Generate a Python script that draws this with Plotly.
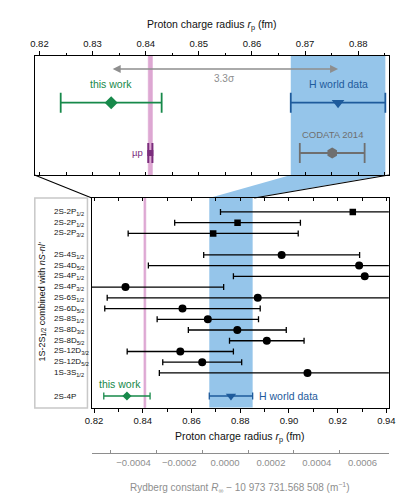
import plotly.graph_objects as go

W, H = 412, 495
OFF = 8  # page body margin of the written html page
FONT = "Liberation Sans, Arial, Helvetica, sans-serif"

# ---------------- data ----------------
# top panel (fm)
rp_this_work, rp_this_work_err = 0.8335, 0.0095
rp_h_world, rp_h_world_err = 0.8762, 0.0089
rp_codata, rp_codata_err = 0.8751, 0.0061
rp_mup, rp_mup_err = 0.84087, 0.00039
sigma_label = "3.3σ"

# bottom panel: 1S-2S combined with nS-nl'
line_labels = ["2S-2P<sub>1/2</sub>", "2S-2P<sub>1/2</sub>", "2S-2P<sub>3/2</sub>",
               "2S-4S<sub>1/2</sub>", "2S-4D<sub>5/2</sub>", "2S-4P<sub>1/2</sub>",
               "2S-4P<sub>3/2</sub>", "2S-6S<sub>1/2</sub>", "2S-6D<sub>5/2</sub>",
               "2S-8S<sub>1/2</sub>", "2S-8D<sub>3/2</sub>", "2S-8D<sub>5/2</sub>",
               "2S-12D<sub>3/2</sub>", "2S-12D<sub>5/2</sub>", "1S-3S<sub>1/2</sub>"]
line_values = [0.9262, 0.8789, 0.8689, 0.8970, 0.9288, 0.9311, 0.8329, 0.8872,
               0.8563, 0.8667, 0.8788, 0.8909, 0.8554, 0.8644, 0.9076]
line_errors = [0.0543, 0.0258, 0.0349, 0.0320, 0.0865, 0.0539, 0.0403, 0.0618,
               0.0319, 0.0208, 0.0201, 0.0153, 0.0218, 0.0162, 0.0608]
line_symbols = ["square"] * 3 + ["circle"] * 12
line_rows = [0, 1, 2, 4, 5, 6, 7, 8, 9, 10, 11, 12, 13, 14, 15]
this_work_row = 17.15

top_ticks = [0.82, 0.83, 0.84, 0.85, 0.86, 0.87, 0.88]
bottom_ticks = [0.82, 0.84, 0.86, 0.88, 0.90, 0.92, 0.94]
ryd_ticks = [-0.0004, -0.0002, 0.0, 0.0002, 0.0004, 0.0006]
ryd_ticktext = ["−0.0004", "−0.0002", "0.0000", "0.0002", "0.0004", "0.0006"]
ryd_minor = [-0.0005, -0.0003, -0.0001, 0.0001, 0.0003, 0.0005]

# ---------------- style / layout geometry ----------------
GREEN = "#17894a"
BLUE = "#1e5b9c"
LBLUE = "#95c5ea"
PINK = "#dea8d3"
PURPLE = "#7b2d7d"
GRAY = "#6f6f6f"
AGRAY = "#8e8e8e"

def px(x):
    return (x - OFF) / W

def py(y):
    return 1 - (y - OFF) / H

top_xdom = [px(28.3), px(395)]
top_ydom = [py(175), py(56)]
top_range = [0.81909, 0.88576]
bot_xdom = [px(87.3), px(395)]
bot_ydom = [py(407.5), py(198)]
bot_range = [0.8190, 0.9410]
ryd_range = [-0.000583, 0.000715]

def xt(v):
    return top_xdom[0] + (v - top_range[0]) / (top_range[1] - top_range[0]) * (top_xdom[1] - top_xdom[0])

def xb(v):
    return bot_xdom[0] + (v - bot_range[0]) / (bot_range[1] - bot_range[0]) * (bot_xdom[1] - bot_xdom[0])

# top-panel row positions (panel units, 0 = top)
ROW_ARROW, ROW_SIGMA, ROW_LABEL, ROW_MAIN, ROW_CLABEL, ROW_CODATA = 13, 23, 28, 46.7, 79, 97

fig = go.Figure()

# ---- top panel ----
fig.add_trace(go.Scatter(x=[rp_this_work], y=[ROW_MAIN], mode="markers", xaxis="x", yaxis="y",
                         marker=dict(symbol="diamond", size=10, color=GREEN),
                         error_x=dict(type="data", array=[rp_this_work_err], color=GREEN, thickness=1.8, width=10)))
fig.add_trace(go.Scatter(x=[rp_h_world], y=[ROW_MAIN], mode="markers", xaxis="x", yaxis="y",
                         marker=dict(symbol="triangle-down", size=11, color=BLUE),
                         error_x=dict(type="data", array=[rp_h_world_err], color=BLUE, thickness=1.8, width=10)))
fig.add_trace(go.Scatter(x=[rp_codata], y=[ROW_CODATA], mode="markers", xaxis="x", yaxis="y",
                         marker=dict(symbol="hexagon", size=11, color=GRAY),
                         error_x=dict(type="data", array=[rp_codata_err], color=GRAY, thickness=1.8, width=10)))
fig.add_trace(go.Scatter(x=[rp_mup], y=[ROW_CODATA], mode="markers", xaxis="x", yaxis="y",
                         marker=dict(symbol="square", size=6, color=PURPLE),
                         error_x=dict(type="data", array=[rp_mup_err], color=PURPLE, thickness=2, width=10)))

# ---- bottom panel ----
for sym, size in [("square", 6.5), ("circle", 8)]:
    idx = [i for i, s in enumerate(line_symbols) if s == sym]
    fig.add_trace(go.Scatter(x=[line_values[i] for i in idx], y=[line_rows[i] for i in idx],
                             mode="markers", xaxis="x2", yaxis="y2",
                             marker=dict(symbol=sym, size=size, color="black"),
                             error_x=dict(type="data", array=[line_errors[i] for i in idx],
                                          color="black", thickness=1.3, width=3)))
fig.add_trace(go.Scatter(x=[rp_this_work], y=[this_work_row], mode="markers", xaxis="x2", yaxis="y2",
                         marker=dict(symbol="diamond", size=7, color=GREEN),
                         error_x=dict(type="data", array=[rp_this_work_err], color=GREEN, thickness=1.3, width=3.5)))
fig.add_trace(go.Scatter(x=[rp_h_world], y=[this_work_row], mode="markers", xaxis="x2", yaxis="y2",
                         marker=dict(symbol="triangle-down", size=9, color=BLUE),
                         error_x=dict(type="data", array=[rp_h_world_err], color=BLUE, thickness=1.3, width=3.5)))

# invisible anchors for helper axes
for xa, ya, xv, yv in [("x3", "y3", 0.0, 0.5), ("x4", "y", rp_codata, ROW_MAIN), ("x5", "y2", rp_codata, 0)]:
    fig.add_trace(go.Scatter(x=[xv], y=[yv], mode="markers", xaxis=xa, yaxis=ya,
                             marker=dict(opacity=0), hoverinfo="skip", showlegend=False))

# ---------------- shapes ----------------
shapes = []
for xr, yr in [("x", "y domain"), ("x2", "y2 domain")]:
    shapes.append(dict(type="rect", xref=xr, yref=yr, x0=rp_h_world - rp_h_world_err,
                       x1=rp_h_world + rp_h_world_err, y0=0, y1=1, fillcolor=LBLUE,
                       line=dict(width=0), layer="below"))
    shapes.append(dict(type="rect", xref=xr, yref=yr, x0=rp_mup - rp_mup_err,
                       x1=rp_mup + rp_mup_err, y0=0, y1=1, fillcolor=PINK,
                       line=dict(width=0.6, color=PINK), layer="below"))
ytb, ybt = top_ydom[0], bot_ydom[1]
hl, hr = rp_h_world - rp_h_world_err, rp_h_world + rp_h_world_err
shapes.append(dict(type="path", xref="paper", yref="paper",
                   path=f"M {xt(hl)},{ytb} L {xt(hr)},{ytb} L {xb(hr)},{ybt} L {xb(hl)},{ybt} Z",
                   fillcolor=LBLUE, line=dict(width=0), layer="below"))
shapes.append(dict(type="line", xref="paper", yref="paper", x0=top_xdom[0], y0=ytb,
                   x1=xb(top_range[0]), y1=ybt, line=dict(color="black", width=1.1)))
shapes.append(dict(type="line", xref="paper", yref="paper", x0=top_xdom[1], y0=ytb,
                   x1=xb(top_range[1]), y1=ybt, line=dict(color="black", width=1.1)))
shapes.append(dict(type="rect", xref="paper", yref="paper", x0=px(28.5), x1=px(83), y0=py(408),
                   y1=py(198), line=dict(color="#c8c8c8", width=1.5), fillcolor="rgba(0,0,0,0)"))

# ---------------- annotations ----------------
ann = []
def A(**k):
    k.setdefault("showarrow", False)
    k.setdefault("yanchor", "middle")
    k.setdefault("xanchor", "center")
    ann.append(k)

A(text="Proton charge radius <i>r</i><sub>p</sub> (fm)", xref="paper", yref="paper",
  x=(top_xdom[0] + top_xdom[1]) / 2, y=py(25), font=dict(size=10.5, color="#111", family=FONT))
A(text="Proton charge radius <i>r</i><sub>p</sub> (fm)", xref="paper", yref="paper",
  x=(bot_xdom[0] + bot_xdom[1]) / 2, y=py(437), font=dict(size=10.5, color="#111", family=FONT))
A(text="Rydberg constant <i>R</i><sub>∞</sub> − 10 973 731.568 508 (m<sup>−1</sup>)", xref="paper",
  yref="paper", x=(bot_xdom[0] + bot_xdom[1]) / 2, y=py(487), font=dict(size=10, color=AGRAY, family=FONT))

A(text="this work", xref="x", yref="y", x=rp_this_work, y=ROW_LABEL, font=dict(size=10.5, color=GREEN, family=FONT))
A(text="H world data", xref="x", yref="y", x=rp_h_world, y=ROW_LABEL, font=dict(size=10.5, color=BLUE, family=FONT))
A(text="CODATA 2014", xref="x", yref="y", x=rp_codata, y=ROW_CLABEL, font=dict(size=9.5, color=GRAY, family=FONT))
A(text="µp", xref="x", yref="y", x=rp_mup, y=ROW_CODATA, xanchor="right", xshift=-5,
  font=dict(size=9.5, color=PURPLE, family=FONT))
A(text=sigma_label, xref="x", yref="y", x=(rp_this_work + rp_h_world) / 2, y=ROW_SIGMA,
  font=dict(size=10, color=AGRAY, family=FONT))
ann.append(dict(text="", xref="x", yref="y", x=rp_h_world, y=ROW_ARROW, axref="x", ayref="y",
                ax=rp_this_work, ay=ROW_ARROW, showarrow=True, arrowhead=2, arrowside="end+start",
                arrowsize=1, arrowwidth=1.6, arrowcolor=AGRAY))

for lab, row in zip(line_labels, line_rows):
    A(text=lab, xref="paper", yref="y2", x=px(46), y=row, xanchor="left",
      font=dict(size=8, color="#111", family=FONT))
A(text="2S-4P", xref="paper", yref="y2", x=px(46), y=this_work_row, xanchor="left",
  font=dict(size=8, color="#111", family=FONT))
A(text="this work", xref="x2", yref="y2", x=rp_this_work, y=this_work_row - 1.1, xshift=-7,
  font=dict(size=10.5, color=GREEN, family=FONT))
A(text="H world data", xref="x2", yref="y2", x=rp_h_world + rp_h_world_err, y=this_work_row,
  xanchor="left", xshift=4, font=dict(size=10.5, color=BLUE, family=FONT))
A(text="1S-2S<sub>1/2</sub> combined with <i>nS-nl'</i>", xref="paper", yref="paper",
  x=px(35.5), y=py(302), textangle=-90, font=dict(size=9, color="#111", family=FONT))

# ---------------- axes ----------------
tickfont = dict(size=9.5, color="#111", family=FONT)
common = dict(showgrid=False, zeroline=False)

fig.update_layout(
    width=W, height=H, margin=dict(l=0, r=0, t=0, b=0),
    paper_bgcolor="white", plot_bgcolor="rgba(0,0,0,0)", showlegend=False,
    font=dict(family=FONT),
    shapes=shapes, annotations=ann,
    xaxis=dict(domain=top_xdom, range=top_range, anchor="y", side="top", tickvals=top_ticks,
               ticktext=[f"{v:.2f}" for v in top_ticks], ticks="outside", ticklen=4, tickwidth=1.2,
               tickcolor="black", minor=dict(dtick=0.005, tick0=0.82, ticks="outside", ticklen=2, tickwidth=1.2, tickcolor="black"),
               showline=True, linecolor="black", linewidth=1.4, mirror=True, tickfont=tickfont, **common),
    xaxis4=dict(range=top_range, overlaying="x", anchor="y", side="bottom", showticklabels=False,
                tickvals=[0.82 + 0.005 * i for i in range(14)], ticks="inside", ticklen=3, tickwidth=1.2,
                tickcolor="black", showline=False, **common),
    yaxis=dict(domain=top_ydom, range=[119, 0], anchor="x", showticklabels=False, ticks="",
               showline=True, linecolor="black", linewidth=1.4, mirror=True, **common),
    xaxis2=dict(domain=bot_xdom, range=bot_range, anchor="y2", side="bottom", tickvals=bottom_ticks,
                ticktext=[f"{v:.2f}" for v in bottom_ticks], ticks="outside", ticklen=4, tickwidth=1.2,
                tickcolor="black", minor=dict(dtick=0.01, tick0=0.82, ticks="outside", ticklen=3, tickwidth=1.2, tickcolor="black"),
                showline=True, linecolor="black", linewidth=1.4, mirror=True, tickfont=tickfont, **common),
    xaxis5=dict(range=bot_range, overlaying="x2", anchor="y2", side="top", showticklabels=False,
                tickvals=[0.82 + 0.01 * i for i in range(13)], ticks="inside", ticklen=3, tickwidth=1.2,
                tickcolor="black", showline=False, **common),
    yaxis2=dict(domain=bot_ydom, range=[18.22, -1.3], anchor="x2", showticklabels=False, ticks="",
                showline=True, linecolor="black", linewidth=1.4, mirror=True, **common),
    xaxis3=dict(domain=bot_xdom, range=ryd_range, anchor="y3", side="bottom", tickvals=ryd_ticks,
                ticktext=ryd_ticktext, ticks="", showline=True, linecolor=AGRAY, linewidth=1.2,
                minor=dict(tickvals=ryd_minor, ticks="inside", ticklen=3, tickwidth=1, tickcolor=AGRAY),
                tickfont=dict(size=9.5, color=AGRAY, family=FONT), **common),
    yaxis3=dict(domain=[py(453), py(448)], range=[0, 1], anchor="x3", visible=False, **common),
)

fig.write_html("out.html")
